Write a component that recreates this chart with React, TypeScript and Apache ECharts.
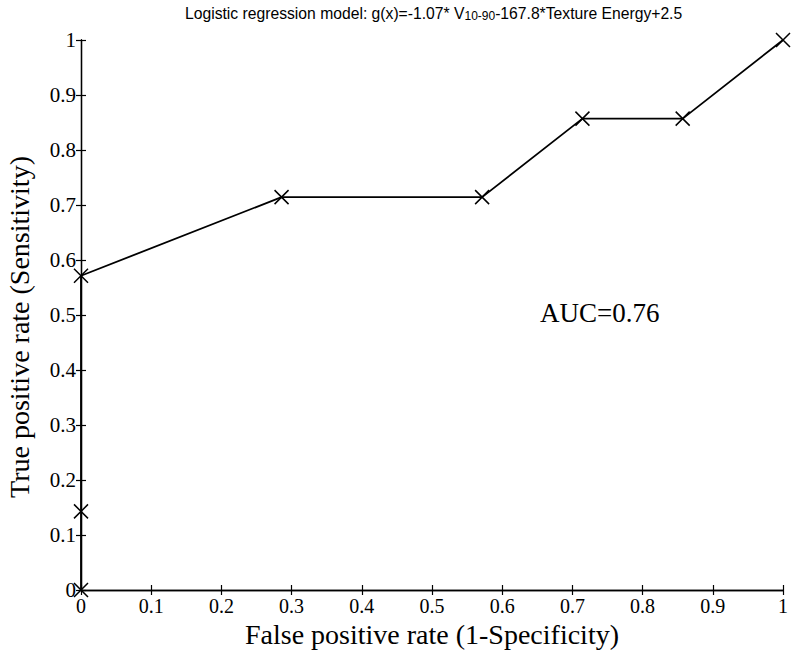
import React, { useEffect, useRef } from "react";
import * as echarts from "echarts";

const fpr = [0, 0, 0, 0.2857, 0.5714, 0.7143, 0.8571, 1];
const tpr = [0, 0.1429, 0.5714, 0.7143, 0.7143, 0.8571, 0.8571, 1];
const ticks = [0, 0.1, 0.2, 0.3, 0.4, 0.5, 0.6, 0.7, 0.8, 0.9, 1];
const titleParts = ["Logistic regression model: g(x)=-1.07* V", "10-90", "-167.8*Texture Energy+2.5"];
const xName = "False positive rate (1-Specificity)";
const yName = "True positive rate (Sensitivity)";
const aucText = "AUC=0.76";

const serif = "'Liberation Serif', 'Times New Roman', serif";
const sans = "'Liberation Sans', Arial, sans-serif";

export default function App() {
  const ref = useRef<HTMLDivElement>(null);
  useEffect(() => {
    if (!ref.current) return;
    const chart = echarts.init(ref.current, null, { renderer: "svg" });
    const fmt = (v: number) => String(+v.toFixed(1));
    const axisCommon = {
      type: "value" as const,
      min: ticks[0],
      max: ticks[ticks.length - 1],
      interval: 0.1,
      splitLine: { show: false },
      nameMoveOverlap: false,
      axisLine: { show: true, lineStyle: { color: "#000", width: 1.3 } },
      axisTick: { show: true, inside: true, length: 5, lineStyle: { color: "#000", width: 1.2 } },
    };
    const data = fpr.map((x, i) => [x, tpr[i]]);
    chart.setOption({
      animation: false,
      backgroundColor: "#fff",
      title: {
        left: 180,
        top: 0,
        text: `{a|${titleParts[0]}}{sub|${titleParts[1]}}{a|${titleParts[2]}}`,
        textStyle: {
          fontWeight: "normal",
          rich: {
            a: { fontFamily: sans, fontSize: 15.7, fontWeight: "normal", color: "#000", lineHeight: 17, verticalAlign: "top" },
            sub: { fontFamily: sans, fontSize: 12, fontWeight: "normal", color: "#000", lineHeight: 12, verticalAlign: "bottom", padding: [10, 0, 0, 0] },
          },
        },
      },
      grid: { left: 81, right: 17, top: 40, bottom: 64, containLabel: false, outerBoundsMode: "none" },
      xAxis: [
        {
          ...axisCommon,
          position: "bottom",
          name: xName,
          nameLocation: "middle",
          nameGap: 30,
          nameTextStyle: { fontFamily: serif, fontSize: 28, color: "#000" },
          axisLabel: { fontFamily: serif, fontSize: 20, color: "#000", margin: 6, formatter: fmt },
        },
        {
          ...axisCommon,
          position: "top",
          axisLabel: { show: false },
        },
      ],
      yAxis: [
        {
          ...axisCommon,
          position: "left",
          name: yName,
          nameLocation: "middle",
          nameGap: 48,
          nameTextStyle: { fontFamily: serif, fontSize: 28, color: "#000", padding: [0, 24, 0, 0] },
          axisLabel: { fontFamily: serif, fontSize: 21, color: "#000", margin: 5, formatter: fmt },
        },
        {
          ...axisCommon,
          position: "right",
          axisLabel: { show: false },
        },
      ],
      graphic: [
        {
          type: "text",
          left: 540,
          top: 299,
          style: { text: aucText, fontFamily: serif, fontSize: 27, fill: "#000" },
        },
      ],
      series: [
        {
          type: "line",
          data,
          xAxisIndex: 0,
          yAxisIndex: 0,
          symbol: "path://M0,0L10,10M10,0L0,10",
          symbolSize: 14,
          showSymbol: true,
          lineStyle: { color: "#000", width: 1.8 },
          itemStyle: { color: "#000", borderColor: "#000", borderWidth: 1.5 },
          emphasis: { disabled: true },
        },
      ],
    });
    return () => chart.dispose();
  }, []);
  return <div ref={ref} style={{ position: "absolute", left: 0, top: 0, width: 800, height: 654 }} />;
}
